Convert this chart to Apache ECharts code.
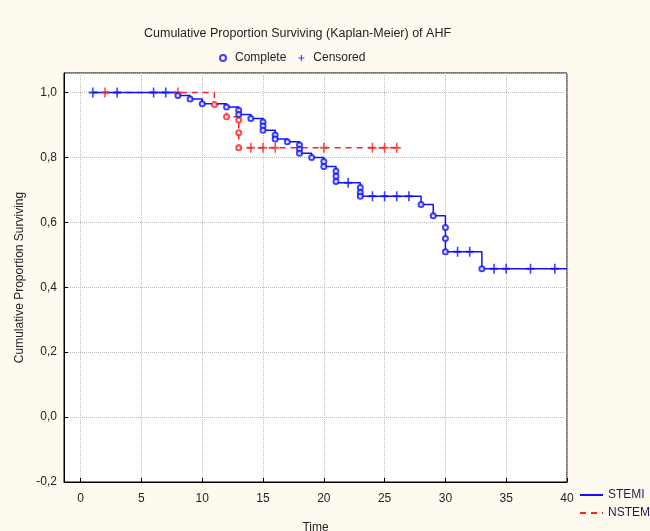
<!DOCTYPE html>
<html>
<head>
<meta charset="utf-8">
<script src="https://cdn.jsdelivr.net/npm/echarts@6/dist/echarts.min.js"></script>
<style>
  html, body { margin: 0; padding: 0; background: #fffaf0; }
  #km { width: 650px; height: 531px; }
</style>
</head>
<body>
<div id="km"></div>
<script>
// STEMI curve: time of each step and survival level after it
const stemiStepT = [1, 8, 9, 10, 12, 13, 14, 15, 16, 17, 18, 19, 20, 21, 23, 28, 29, 30, 33, 40];
const stemiStepS = [1.0, 0.991, 0.98, 0.965, 0.955, 0.932, 0.92, 0.884, 0.857, 0.848, 0.813, 0.80, 0.772, 0.722, 0.68, 0.655, 0.62, 0.509, 0.457, 0.457];
// STEMI complete (event) markers
const stemiDoneT = [8, 9, 10, 12, 13, 13, 14, 15, 15, 15, 16, 16, 17, 18, 18, 18, 19, 20, 20, 21, 21, 21, 23, 23, 23, 28, 29, 30, 30, 30, 33];
const stemiDoneS = [0.991, 0.98, 0.965, 0.955, 0.945, 0.932, 0.92, 0.909, 0.897, 0.884, 0.869, 0.857, 0.848, 0.838, 0.825, 0.813, 0.80, 0.787, 0.772, 0.757, 0.742, 0.726, 0.707, 0.692, 0.68, 0.655, 0.62, 0.584, 0.55, 0.509, 0.457];
// STEMI censored markers
const stemiCensT = [1, 3, 6, 7, 22, 24, 25, 26, 27, 31, 32, 34, 35, 37, 39];
const stemiCensS = [1.0, 1.0, 1.0, 1.0, 0.722, 0.68, 0.68, 0.68, 0.68, 0.509, 0.509, 0.457, 0.457, 0.457, 0.457];

// NSTEMI
const nstemiStepT = [1, 11, 12, 13, 26];
const nstemiStepS = [1.0, 0.963, 0.925, 0.83, 0.83];
const nstemiDoneT = [11, 12, 13, 13, 13];
const nstemiDoneS = [0.963, 0.925, 0.915, 0.876, 0.83];
const nstemiCensT = [2, 8, 14, 15, 16, 20, 24, 25, 26];
const nstemiCensS = [1.0, 1.0, 0.83, 0.83, 0.83, 0.83, 0.83, 0.83, 0.83];

const BLUE = '#1010ff';
const RED = '#ff2222';
const FONT = 'Liberation Sans';
const plus = 'path://M4,0H6V4H10V6H6V10H4V6H0V4H4Z';

function pairs(t, s) { return t.map((v, i) => [v, s[i]]); }
function comma(v) { return v.toFixed(1).replace('.', ','); }

const chart = echarts.init(document.getElementById('km'));
chart.setOption({
  backgroundColor: '#fffaf0',
  animation: false,
  title: {
    text: 'Cumulative Proportion Surviving (Kaplan-Meier) of AHF',
    left: 139, top: 22,
    textStyle: { fontFamily: FONT, fontSize: 12.5, fontWeight: 'normal', color: '#222' }
  },
  legend: [{
    data: ['Complete', 'Censored'],
    left: 214, top: 47,
    itemWidth: 14, itemHeight: 6, itemGap: 12,
    selectedMode: false,
    textStyle: { fontFamily: FONT, fontSize: 12, color: '#222' }
  }, {
    data: ['STEMI', 'NSTEMI'],
    left: 574, top: 484, orient: 'vertical',
    itemWidth: 23, itemHeight: 8, itemGap: 6,
    selectedMode: false,
    itemStyle: { opacity: 0 },
    lineStyle: { opacity: 1 },
    textStyle: { fontFamily: FONT, fontSize: 12, color: '#1c2247' }
  }],
  grid: {
    left: 64, right: 83, top: 73, bottom: 49,
    outerBoundsMode: 'none',
    show: true, backgroundColor: '#fff', borderColor: '#000', borderWidth: 1
  },
  xAxis: {
    type: 'value', min: -1.37, max: 40, splitNumber: 8, minInterval: 5, maxInterval: 5,
    name: 'Time', nameLocation: 'middle', nameGap: 40,
    nameTextStyle: { fontFamily: FONT, fontSize: 12, color: '#222' },
    axisLine: { onZero: false, lineStyle: { color: '#000' } },
    axisTick: { inside: true, length: 4, lineStyle: { color: '#000' } },
    axisLabel: {
      showMinLabel: false, margin: 11,
      fontFamily: FONT, fontSize: 12, color: '#222',
      formatter: v => (Math.abs(v % 5) < 1e-6 ? String(v) : '')
    },
    splitLine: { lineStyle: { color: '#bdbdbd', type: 'dotted' } }
  },
  yAxis: {
    type: 'value', min: -0.2, max: 1.06, interval: 0.2,
    name: 'Cumulative Proportion Surviving', nameLocation: 'middle', nameGap: 34,
    nameTextStyle: { fontFamily: FONT, fontSize: 12, color: '#222' },
    axisLine: { show: true, onZero: false, lineStyle: { color: '#000' } },
    axisTick: { show: true, inside: true, length: 4, lineStyle: { color: '#000' } },
    axisLabel: {
      showMaxLabel: false, margin: 7,
      fontFamily: FONT, fontSize: 12, color: '#222',
      formatter: v => (v > 1.01 ? '' : comma(v))
    },
    splitLine: { lineStyle: { color: '#bdbdbd', type: 'dotted' } }
  },
  series: [{
    name: 'STEMI', type: 'line', step: 'end', symbol: 'none',
    data: pairs(stemiStepT, stemiStepS),
    lineStyle: { color: BLUE, width: 1.5 }, itemStyle: { color: BLUE }, z: 3
  }, {
    name: 'NSTEMI', type: 'line', step: 'end', symbol: 'none',
    data: pairs(nstemiStepT, nstemiStepS),
    lineStyle: { color: RED, width: 1.5, type: [6, 5] }, itemStyle: { color: RED }, z: 2
  }, {
    name: 'Complete', type: 'scatter', symbol: 'emptyCircle', symbolSize: 5,
    data: pairs(stemiDoneT, stemiDoneS),
    itemStyle: { color: BLUE, borderColor: BLUE, borderWidth: 1.5 }, z: 5
  }, {
    name: 'Censored', type: 'scatter', symbol: plus, symbolSize: [8, 10],
    data: pairs(stemiCensT, stemiCensS),
    itemStyle: { color: BLUE }, z: 5
  }, {
    name: 'Complete', type: 'scatter', symbol: 'emptyCircle', symbolSize: 5,
    data: pairs(nstemiDoneT, nstemiDoneS),
    itemStyle: { color: RED, borderColor: RED, borderWidth: 1.5 }, z: 4
  }, {
    name: 'Censored', type: 'scatter', symbol: plus, symbolSize: [8, 10],
    data: pairs(nstemiCensT, nstemiCensS),
    itemStyle: { color: RED }, z: 4
  }]
});
</script>
</body>
</html>
